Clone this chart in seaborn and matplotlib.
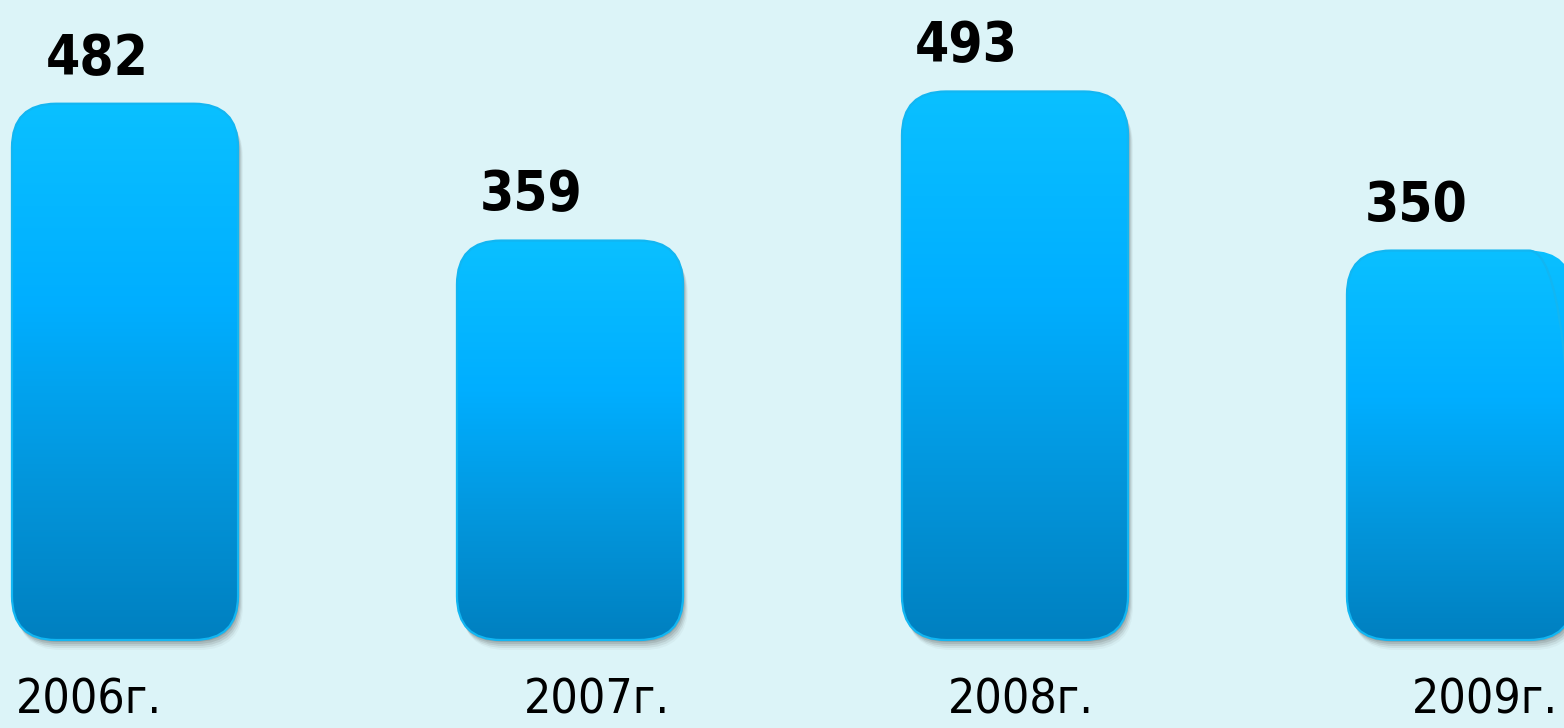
import numpy as np
import matplotlib
matplotlib.use("Agg")
import matplotlib.pyplot as plt
import seaborn as sns
from matplotlib.patches import FancyBboxPatch
from matplotlib.colors import LinearSegmentedColormap
from matplotlib.transforms import IdentityTransform, ScaledTranslation

categories = ["2006г.", "2007г.", "2008г.", "2009г."]
values = [482, 359, 493, 350]

BG = "#DCF4F8"
sns.set_theme(style="white")
plt.rcParams['font.family'] = ['DejaVu Sans']

fig = plt.figure(figsize=(15.64, 7.28), dpi=100, facecolor=BG)
ax = fig.add_axes([0, 88 / 728, 1, 640 / 728])
ax.set_facecolor(BG)

sns.barplot(x=categories, y=values, width=0.508, ax=ax, color="#00AEEF")

ax.set_xlim(-0.2809, -0.2809 + 1564 / 445)
ax.set_ylim(0, 575.2)

cmap = LinearSegmentedColormap.from_list(
    "g", [(0.0, "#0AC0FF"), (0.38, "#00AEFF"), (0.7, "#0396DC"), (1.0, "#0080C0")])
grad = np.linspace(0, 1, 256).reshape(-1, 1)

R = 44
style = f"round,pad=0,rounding_size={R}"
bars = list(ax.patches)
for p in bars:
    x0, y0, w, h = p.get_x(), p.get_y(), p.get_width(), p.get_height()
    p.remove()
    X0, Y0 = ax.transData.transform((x0, y0))
    X1, Y1 = ax.transData.transform((x0 + w, y0 + h))
    for dx, dy, a in [(1, -2, 0.14), (2, -4, 0.12), (3, -6, 0.10), (4, -8, 0.07), (5, -10, 0.04)]:
        sh = FancyBboxPatch((X0 + dx, Y0 + dy), X1 - X0, Y1 - Y0, boxstyle=style,
                            facecolor="#303030", edgecolor="none", alpha=a,
                            transform=IdentityTransform(), clip_on=False, zorder=1)
        ax.add_patch(sh)
    body = FancyBboxPatch((X0, Y0), X1 - X0, Y1 - Y0, boxstyle=style,
                          facecolor="none", edgecolor="#12B6F2", linewidth=1.6,
                          transform=IdentityTransform(), clip_on=False, zorder=3)
    ax.add_patch(body)
    im = ax.imshow(grad, extent=[x0, x0 + w, y0, y0 + h], origin="upper",
                   cmap=cmap, aspect="auto", zorder=2, interpolation="bilinear")
    im.set_clip_path(body)

value_dx = [-28, -39, -49, -44]
for i, v in enumerate(values):
    ax.annotate(str(v), xy=(i, v), xytext=(value_dx[i] * 0.72, 21.6),
                textcoords="offset points", ha="center", va="baseline",
                fontsize=39.5, fontweight="bold", fontstretch="condensed",
                color="black", annotation_clip=False)

ax.set_xlim(-0.2809, -0.2809 + 1564 / 445)
ax.set_ylim(0, 575.2)
ax.set_yticks([])
ax.set_ylabel("")
ax.set_xlabel("")
ax.tick_params(axis="x", length=0, pad=26, labelsize=34.5, colors="black")
label_dx = [-36, 27, 6, 25]
for lab, d in zip(ax.get_xticklabels(), label_dx):
    lab.set_fontstretch("condensed")
    lab.set_transform(lab.get_transform() + ScaledTranslation(d / 100, 0, fig.dpi_scale_trans))
for s in ax.spines.values():
    s.set_visible(False)

fig.savefig("out.png", dpi=100, facecolor=BG)
